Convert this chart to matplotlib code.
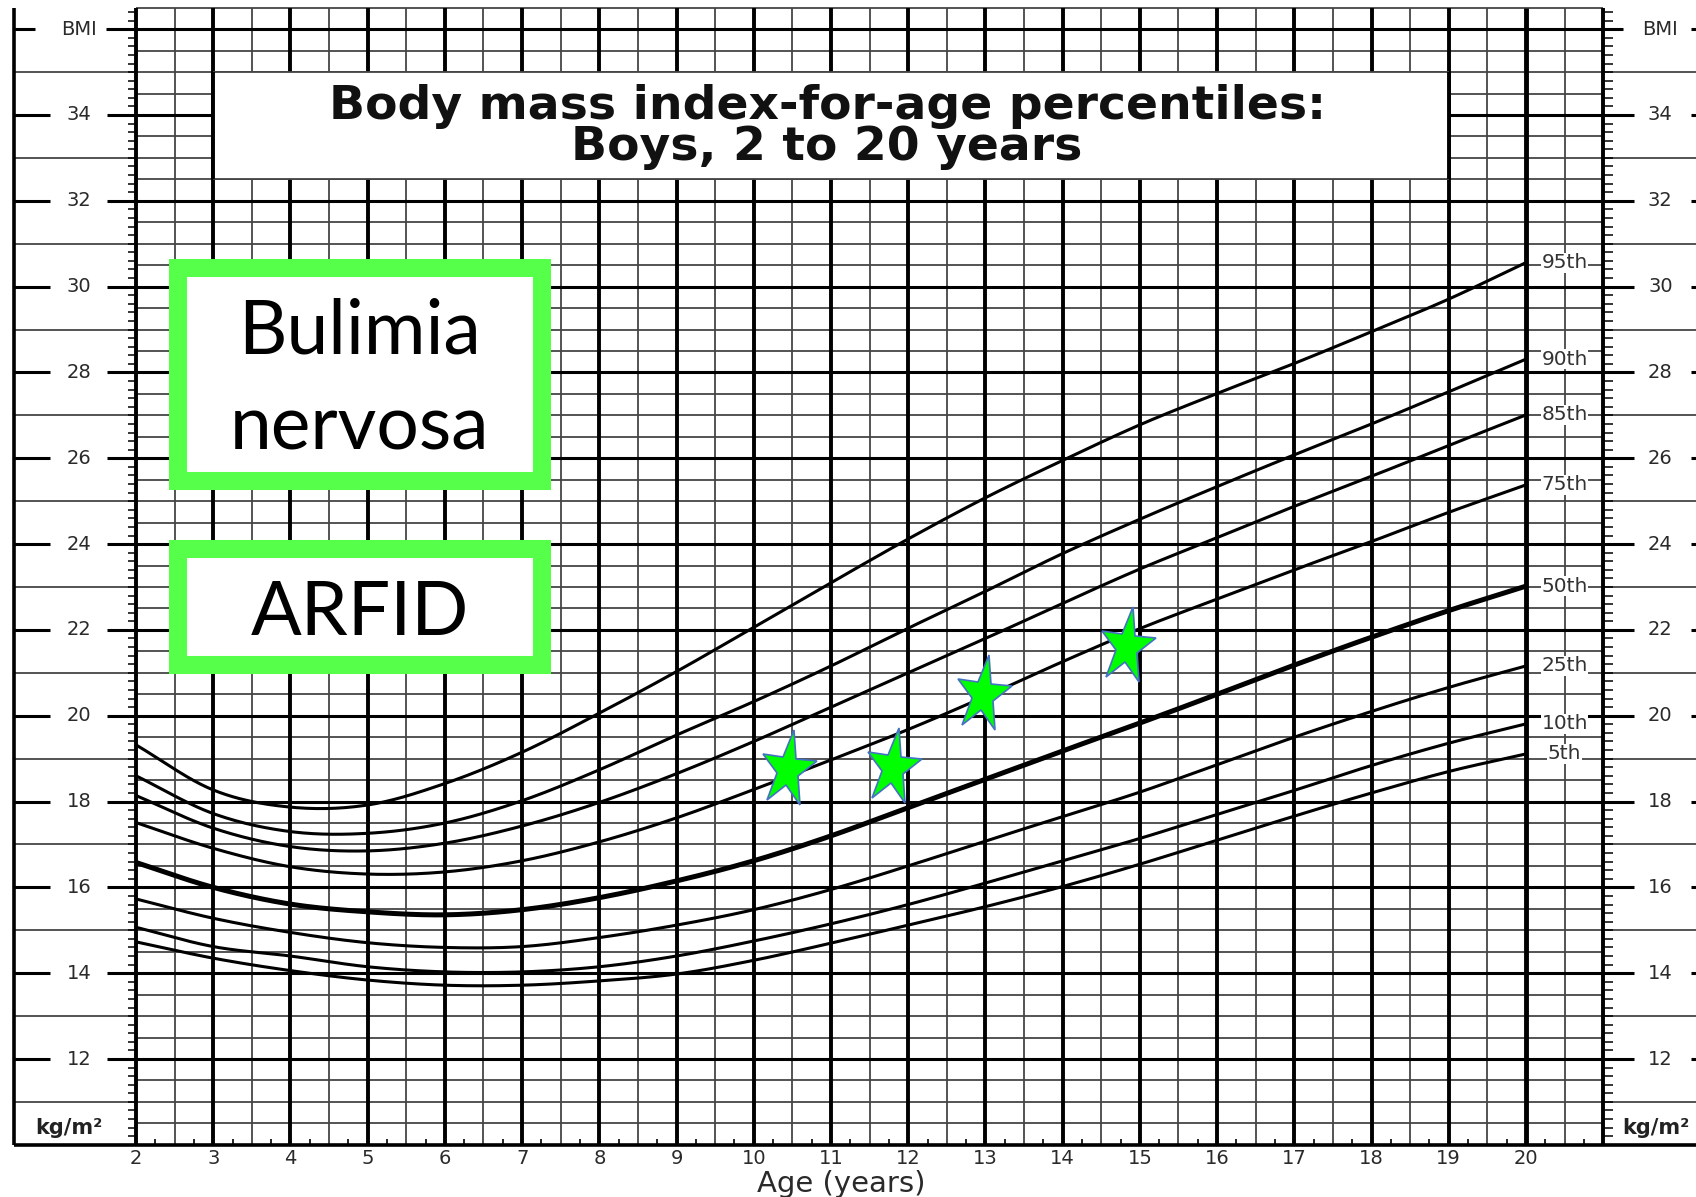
"""
BMI-for-age percentile chart (boys, 2-20 y) with four patient stars
and two diagnosis boxes. Saves out.png (1696x1197).
"""
import matplotlib
matplotlib.use("Agg")
import matplotlib.pyplot as plt
import numpy as np
from matplotlib.markers import MarkerStyle
from matplotlib.patches import Rectangle
from matplotlib.transforms import Affine2D

# ---- data --------------------------------------------------------------
AGES = list(range(2, 21))
P5 = [14.73, 14.35, 14.06, 13.84, 13.72, 13.72, 13.82, 13.98, 14.30, 14.70,
      15.12, 15.55, 16.02, 16.54, 17.10, 17.66, 18.20, 18.70, 19.11]
P10 = [15.07, 14.62, 14.40, 14.15, 14.03, 14.03, 14.15, 14.40, 14.75, 15.15,
       15.60, 16.10, 16.62, 17.14, 17.70, 18.26, 18.84, 19.36, 19.81]
P25 = [15.73, 15.28, 14.95, 14.71, 14.60, 14.62, 14.83, 15.12, 15.48, 15.95,
       16.50, 17.08, 17.65, 18.22, 18.86, 19.50, 20.10, 20.66, 21.16]
P50 = [16.58, 16.00, 15.61, 15.43, 15.36, 15.48, 15.76, 16.15, 16.62, 17.20,
       17.86, 18.52, 19.18, 19.83, 20.50, 21.18, 21.83, 22.45, 23.02]
P75 = [17.51, 16.91, 16.48, 16.31, 16.36, 16.62, 17.06, 17.62, 18.28, 18.97,
       19.68, 20.45, 21.26, 22.03, 22.72, 23.40, 24.06, 24.74, 25.38]
P85 = [18.14, 17.38, 16.95, 16.85, 17.03, 17.43, 17.98, 18.65, 19.40, 20.20,
       21.00, 21.80, 22.62, 23.42, 24.15, 24.88, 25.58, 26.30, 27.01]
P90 = [18.60, 17.72, 17.30, 17.26, 17.50, 18.02, 18.74, 19.55, 20.33, 21.16,
       22.04, 22.90, 23.78, 24.58, 25.34, 26.08, 26.80, 27.55, 28.31]
P95 = [19.32, 18.27, 17.87, 17.92, 18.42, 19.15, 20.06, 21.03, 22.06, 23.10,
       24.12, 25.08, 25.95, 26.78, 27.51, 28.21, 28.95, 29.71, 30.56]
PCT_NAMES = ["5th", "10th", "25th", "50th", "75th", "85th", "90th", "95th"]

STAR_AGE = [10.44, 11.80, 12.97, 14.83]
STAR_BMI = [18.74, 18.78, 20.48, 21.60]

X_TICKS = list(range(2, 21))
Y_LABELS = list(range(12, 35, 2))

# ---- layout --------------------------------------------------------------
X0, X1 = 2, 21          # grid, years
Y0, Y1 = 10, 36.5       # grid, BMI
FRAME_X = 0.42
EDGE_X = 22.3
THIN = "#454545"
GREEN = "#55FF4A"
LABEL_FONT = ["DejaVu Sans"]


def smooth(x, y, n=24):
    """cubic Hermite through the read points, for drawing only"""
    x = np.asarray(x, float)
    y = np.asarray(y, float)
    m = np.gradient(y, x)
    xs, ys = [], []
    t = np.linspace(0, 1, n, endpoint=False)
    for i in range(len(x) - 1):
        h = x[i + 1] - x[i]
        h00 = 2 * t**3 - 3 * t**2 + 1
        h10 = t**3 - 2 * t**2 + t
        h01 = -2 * t**3 + 3 * t**2
        h11 = t**3 - t**2
        xs.append(x[i] + t * h)
        ys.append(h00 * y[i] + h10 * h * m[i] + h01 * y[i + 1] + h11 * h * m[i + 1])
    xs.append([x[-1]])
    ys.append([y[-1]])
    return np.concatenate(xs), np.concatenate(ys)


fig = plt.figure(figsize=(16.96, 11.97), dpi=100)
ax = fig.add_axes([0, 0, 1, 1])
ax.set_xlim(0.2388, 22.202)
ax.set_ylim(8.784, 36.68)
ax.axis("off")

# grid
ax.vlines(np.arange(2.5, 21, 1.0), Y0, Y1, colors=THIN, lw=1.3, zorder=1)
ax.vlines([v for v in range(2, 22) if v != 20], Y0, Y1, colors="black", lw=2.8, zorder=1.2)
ax.vlines(20, Y0, Y1, colors="black", lw=3.5, zorder=1.2)
thin_h = [v for v in np.arange(10.5, 36.6, 0.5) if v % 2 != 0]
ax.hlines(thin_h, X0, X1, colors=THIN, lw=1.3, zorder=1)
ax.hlines(range(12, 37, 2), X0, X1, colors="black", lw=2.2, zorder=1.2)
odd = list(range(11, 36, 2))
ax.hlines(odd, FRAME_X, X0, colors=THIN, lw=1.3, zorder=1)
ax.hlines(odd, X1, EDGE_X, colors=THIN, lw=1.3, zorder=1)

# frame
ax.hlines(Y0, FRAME_X, EDGE_X, colors="black", lw=2.6, zorder=2)
ax.vlines(FRAME_X, Y0, Y1, colors="black", lw=2.6, zorder=2)

# small ticks
yt = np.arange(10.2, 36.45, 0.2)
ax.hlines(yt, X0 - 0.104, X0, colors="black", lw=1.1, zorder=1.5)
ax.hlines(yt, X1, X1 + 0.13, colors="black", lw=1.1, zorder=1.5)
xt = [a + q for a in range(2, 21) for q in (0.25, 0.75)]
ax.vlines(xt, Y0, Y0 + 0.14, colors="black", lw=1.2, zorder=1.5)

# y labels with dashes, both sides
for v in Y_LABELS + [36]:
    txt = "BMI" if v == 36 else str(v)
    l_end, r_start, rr_end = (0.69, 1.61, 21.26) if v == 36 else (0.886, 1.624, 21.40)
    ax.hlines(v, FRAME_X, l_end, colors="black", lw=2.2)
    ax.hlines(v, r_start, X0, colors="black", lw=2.2)
    ax.hlines(v, X1, rr_end, colors="black", lw=2.2)
    ax.hlines(v, 22.137, EDGE_X, colors="black", lw=2.2)
    ax.text(1.26, v, txt, ha="center", va="center", fontsize=14,
            color="#2a2a2a", family=LABEL_FONT)
    ax.text(21.74, v, txt, ha="center", va="center", fontsize=14,
            color="#2a2a2a", family=LABEL_FONT)
ax.text(1.13, 10.39, "kg/m²", ha="center", va="center", fontsize=15,
        weight="bold", color="#222222", family=LABEL_FONT)
ax.text(21.245, 10.39, "kg/m²", ha="left", va="center", fontsize=15,
        weight="bold", color="#222222", family=LABEL_FONT)

# x labels
for a in X_TICKS:
    ax.text(a, 9.69, str(a), ha="center", va="center", fontsize=14,
            color="#2a2a2a", family=LABEL_FONT)
ax.text(11.13, 9.08, "Age (years)", ha="center", va="center", fontsize=21,
        color="#2a2a2a", family=LABEL_FONT)

# title box
ax.add_patch(Rectangle((3, 32.5), 16, 2.5, facecolor="white", edgecolor="none", zorder=2))
ax.hlines([32.5, 35], 3, 19, colors=THIN, lw=1.3, zorder=2.1)
ax.vlines([3, 19], 32.5, 35, colors="black", lw=2.8, zorder=2.1)
ax.text(10.95, 33.72, "Body mass index-for-age percentiles:\nBoys, 2 to 20 years",
        ha="center", va="center", multialignment="center", linespacing=0.9,
        fontsize=34, weight="bold", color="#111111", family=LABEL_FONT, zorder=3)

# percentile curves
for name, vals in zip(PCT_NAMES, [P5, P10, P25, P50, P75, P85, P90, P95]):
    xs, ys = smooth(AGES, vals)
    ax.plot(xs, ys, color="black", lw=3.6 if name == "50th" else 2.2,
            solid_capstyle="butt", zorder=3)
    ax.text(20.5, vals[-1], name, ha="center", va="center", fontsize=14.5,
            color="#333333", family=LABEL_FONT, zorder=4,
            bbox=dict(facecolor="white", edgecolor="none", pad=0.5))

# diagnosis boxes
ax.add_patch(Rectangle((2.544, 25.47), 4.714, 4.964, facecolor="white",
                       edgecolor=GREEN, lw=13, zorder=5))
ax.add_patch(Rectangle((2.544, 21.182), 4.714, 2.704, facecolor="white",
                       edgecolor=GREEN, lw=13, zorder=5))
box_font = ["Lato", "DejaVu Sans"]
ax.text(4.9, 28.95, "Bulimia", ha="center", va="center", fontsize=54,
        family=box_font, color="black", zorder=6)
ax.text(4.9, 26.7, "nervosa", ha="center", va="center", fontsize=54,
        family=box_font, color="black", zorder=6)
ax.text(4.9, 22.38, "ARFID", ha="center", va="center", fontsize=54,
        family=box_font, color="black", zorder=6)

# stars
star = MarkerStyle("*", transform=Affine2D().scale(1.0, 1.42).rotate_deg(-8))
ax.plot(STAR_AGE, STAR_BMI, linestyle="none", marker=star, markersize=41,
        markerfacecolor="#00FF00", markeredgecolor="#4472C4",
        markeredgewidth=1.2, zorder=7)

fig.savefig("out.png", dpi=100, facecolor="white")
